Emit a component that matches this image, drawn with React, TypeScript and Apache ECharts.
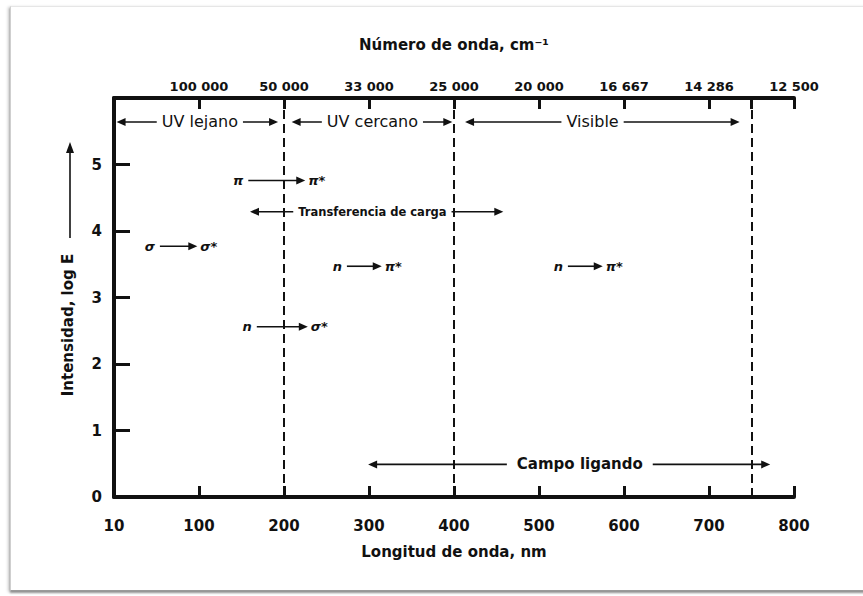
import { useEffect, useRef } from "react";
import * as echarts from "echarts";

// ---- data ----
const wavelengthTicks = [0, 100, 200, 300, 400, 500, 600, 700, 800];
const wavelengthLabels = ["10", "100", "200", "300", "400", "500", "600", "700", "800"];
const wavenumberTicks = [100, 200, 300, 400, 500, 600, 700, 800];
const wavenumberLabels = ["100 000", "50 000", "33 000", "25 000", "20 000", "16 667", "14 286", "12 500"];
const topTickValues = [100, 200, 300, 400, 500, 600, 700, 750, 800];
const intensityTicks = [0, 1, 2, 3, 4, 5];
const boundaries = [200, 400, 750];

const regionNames = ["UV lejano", "UV cercano", "Visible", "Transferencia de carga", "Campo ligando"];
const regionStart = [3, 209, 413, 160, 299];
const regionEnd = [193, 398, 736, 458, 772];
const regionLevel = [5.64, 5.64, 5.64, 4.29, 0.49];
const regionLabelAt = [101, 304, 563, 304, 548];

const transitionFrom = ["σ", "π", "n", "n", "n"];
const transitionTo = ["σ*", "π*", "σ*", "π*", "π*"];
const transitionStart = [54, 158, 168, 274, 534];
const transitionEnd = [98, 225, 228, 315, 575];
const transitionLevel = [3.77, 4.76, 2.56, 3.47, 3.47];

const FONT = "'DejaVu Sans', Verdana, sans-serif";

function arrowHead(tip: number[], dir: number, len = 9, half = 4) {
  return {
    type: "polygon",
    shape: { points: [[tip[0], tip[1]], [tip[0] - dir * len, tip[1] - half], [tip[0] - dir * len, tip[1] + half]] },
    style: { fill: "#111" },
  };
}

export default function App() {
  const ref = useRef<HTMLDivElement>(null);
  useEffect(() => {
    if (!ref.current) return;
    const chart = echarts.init(ref.current, undefined, { renderer: "svg" });
    const regionFont = (i: number) =>
      i === 3 ? `bold 11.5px ${FONT}` : i === 4 ? `bold 15px ${FONT}` : `16px ${FONT}`;
    const option: any = {
      animation: false,
      backgroundColor: "transparent",
      grid: { left: 114, right: 69, top: 98, bottom: 99, containLabel: false },
      xAxis: [
        {
          type: "value",
          position: "bottom",
          min: 0,
          max: 800,
          interval: 100,
          name: "Longitud de onda, nm",
          nameLocation: "middle",
          nameGap: 47,
          nameTextStyle: { fontFamily: FONT, fontWeight: "bold", fontSize: 15, color: "#111" },
          axisLine: { show: true, lineStyle: { color: "#111", width: 4 } },
          axisTick: { show: true, inside: true, length: 11, lineStyle: { color: "#111", width: 3 } },
          axisLabel: {
            margin: 21,
            fontFamily: FONT,
            fontWeight: "bold",
            fontSize: 15,
            color: "#111",
            formatter: (v: number) => wavelengthLabels[wavelengthTicks.indexOf(v)] ?? "",
          },
          splitLine: { show: false },
        },
        {
          type: "value",
          position: "top",
          min: 0,
          max: 800,
          interval: 100,
          name: "Número de onda, cm⁻¹",
          nameLocation: "middle",
          nameGap: 46,
          nameTextStyle: { fontFamily: FONT, fontWeight: "bold", fontSize: 15, color: "#111" },
          axisLine: { show: true, lineStyle: { color: "#111", width: 4 } },
          axisTick: {
            show: true,
            inside: true,
            length: 11,
            customValues: topTickValues,
            lineStyle: { color: "#111", width: 3 },
          },
          axisLabel: {
            margin: 5,
            fontFamily: FONT,
            fontWeight: "bold",
            fontSize: 13,
            color: "#111",
            customValues: wavenumberTicks,
            formatter: (v: number) => wavenumberLabels[wavenumberTicks.indexOf(v)] ?? "",
          },
          splitLine: { show: false },
        },
      ],
      yAxis: {
        type: "value",
        min: 0,
        max: 6,
        interval: 1,
        axisLine: { show: true, onZero: false, lineStyle: { color: "#111", width: 4 } },
        axisTick: { show: true, inside: true, length: 16, lineStyle: { color: "#111", width: 3 } },
        axisLabel: {
          margin: 12,
          fontFamily: FONT,
          fontWeight: "bold",
          fontSize: 15,
          color: "#111",
          formatter: (v: number) => (intensityTicks.includes(v) ? String(v) : ""),
        },
        splitLine: { show: false },
      },
      graphic: [
        {
          type: "text",
          x: 68,
          y: 325,
          rotation: Math.PI / 2,
          style: {
            text: "Intensidad, log E",
            align: "center",
            verticalAlign: "middle",
            font: `bold 15px ${FONT}`,
            fill: "#111",
          },
        },
        {
          type: "line",
          shape: { x1: 70, y1: 238, x2: 70, y2: 150 },
          style: { stroke: "#111", lineWidth: 1.6 },
        },
        {
          type: "polygon",
          shape: { points: [[70, 142], [66, 153], [74, 153]] },
          style: { fill: "#111" },
        },
      ],
      series: [
        {
          type: "line",
          data: [],
          xAxisIndex: 0,
          yAxisIndex: 0,
          markLine: {
            silent: true,
            symbol: ["none", "none"],
            label: { show: false },
            lineStyle: { color: "#111", width: 2, type: [9, 5] },
            data: boundaries.map((b) => ({ xAxis: b })),
          },
          z: 1,
        },
        {
          type: "custom",
          coordinateSystem: "cartesian2d",
          xAxisIndex: 0,
          yAxisIndex: 0,
          z: 3,
          clip: false,
          data: regionNames.map((_, i) => [regionStart[i], regionEnd[i], regionLevel[i], regionLabelAt[i]]),
          encode: { x: [0, 1, 3], y: 2 },
          renderItem: (params: any, api: any) => {
            const i = params.dataIndex;
            const p1 = api.coord([api.value(0), api.value(2)]);
            const p2 = api.coord([api.value(1), api.value(2)]);
            const pl = api.coord([api.value(3), api.value(2)]);
            const pad = i === 4 ? 10 : 5;
            return {
              type: "group",
              children: [
                {
                  type: "line",
                  shape: { x1: p1[0] + 6, y1: p1[1], x2: p2[0] - 6, y2: p2[1] },
                  style: { stroke: "#111", lineWidth: 1.6 },
                },
                arrowHead(p1, -1),
                arrowHead(p2, 1),
                {
                  type: "text",
                  x: pl[0],
                  y: pl[1],
                  style: {
                    text: regionNames[i],
                    align: "center",
                    verticalAlign: "middle",
                    font: regionFont(i),
                    fill: "#111",
                    backgroundColor: "#fff",
                    padding: [1, pad, 1, pad],
                  },
                },
              ],
            };
          },
        },
        {
          type: "custom",
          coordinateSystem: "cartesian2d",
          xAxisIndex: 0,
          yAxisIndex: 0,
          z: 3,
          clip: false,
          data: transitionFrom.map((_, i) => [transitionStart[i], transitionEnd[i], transitionLevel[i]]),
          encode: { x: [0, 1], y: 2 },
          renderItem: (params: any, api: any) => {
            const i = params.dataIndex;
            const p1 = api.coord([api.value(0), api.value(2)]);
            const p2 = api.coord([api.value(1), api.value(2)]);
            return {
              type: "group",
              children: [
                {
                  type: "line",
                  shape: { x1: p1[0], y1: p1[1], x2: p2[0] - 6, y2: p2[1] },
                  style: { stroke: "#111", lineWidth: 1.6 },
                },
                arrowHead(p2, 1),
                {
                  type: "text",
                  x: p1[0] - 5,
                  y: p1[1],
                  style: {
                    text: transitionFrom[i],
                    align: "right",
                    verticalAlign: "middle",
                    font: `italic bold 13px ${FONT}`,
                    fill: "#111",
                  },
                },
                {
                  type: "text",
                  x: p2[0] + 3,
                  y: p2[1],
                  style: {
                    text: transitionTo[i],
                    align: "left",
                    verticalAlign: "middle",
                    font: `italic bold 13px ${FONT}`,
                    fill: "#111",
                  },
                },
              ],
            };
          },
        },
      ],
    };
    chart.setOption(option);
    return () => chart.dispose();
  }, []);

  return (
    <div
      style={{
        position: "fixed",
        left: 0,
        top: 0,
        width: 863,
        height: 596,
        overflow: "hidden",
        background: "#fff",
      }}
    >
      <div
        style={{
          position: "absolute",
          left: 10,
          top: 6,
          width: 900,
          height: 583,
          borderLeft: "1px solid #cfcfcf",
          borderTop: "1px solid #e6e6e6",
          borderBottom: "1px solid #9a9a9a",
          boxShadow: "-2px 1px 3px rgba(0,0,0,0.2), 0 2px 2px rgba(0,0,0,0.35)",
          background: "#fff",
        }}
      />
      <div ref={ref} style={{ position: "absolute", left: 0, top: 0, width: 863, height: 596 }} />
    </div>
  );
}
